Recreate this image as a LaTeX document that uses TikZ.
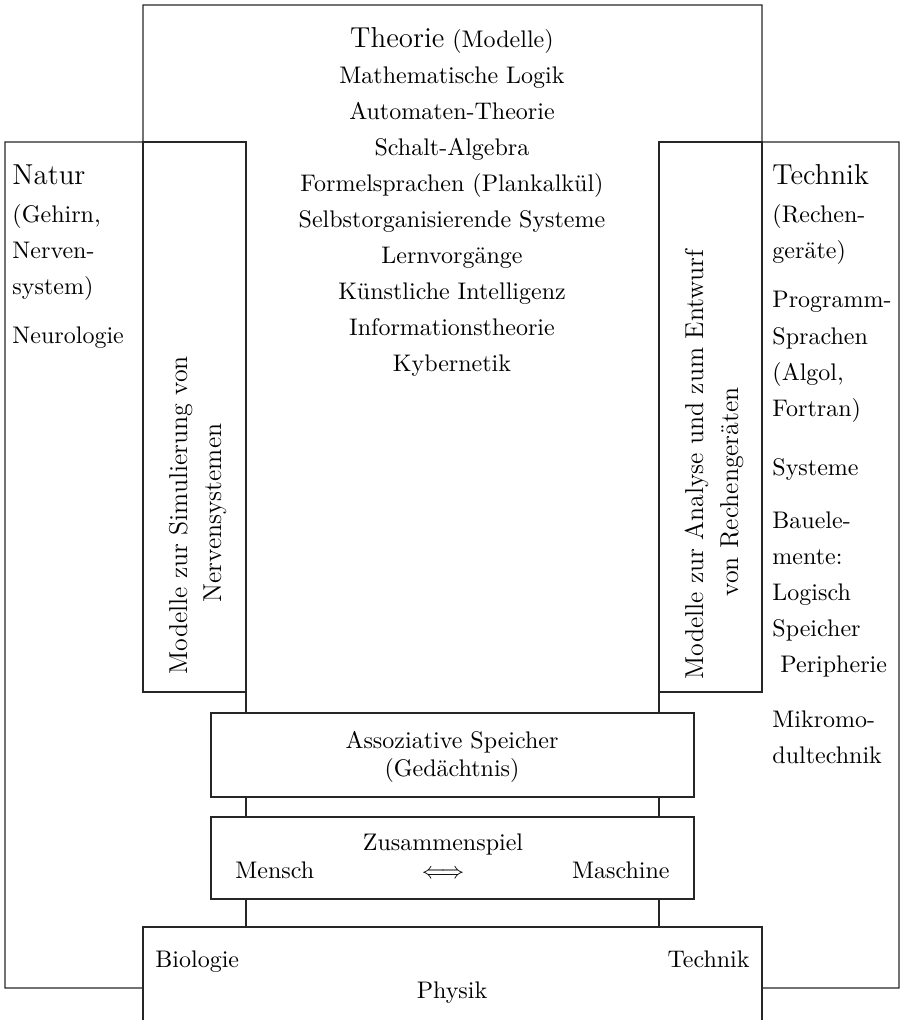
\documentclass[tikz,border=0pt]{standalone}
\begin{document}
\begin{tikzpicture}[x=0.4333pt,y=-0.4333pt,
  frame/.style={line width=0.45pt, draw=black!85},
  box/.style={frame, inner sep=0pt, outer sep=0pt},
  txt/.style={inner sep=0pt, font=\fontsize{10.4}{12.5}\selectfont},
  big/.style={inner sep=0pt, font=\fontsize{12.5}{15}\selectfont},
  item/.style={txt, anchor=base},
  lft/.style={txt, anchor=base west},
  vtxt/.style={inner sep=0pt, font=\fontsize{11.2}{13.5}\selectfont, rotate=90, anchor=base west}]
\useasboundingbox (0,0) rectangle (900,1020);

% outer frames
\coordinate (tl) at (143,5);
\coordinate (tr) at (762,5);
\coordinate (nl) at (5,142);
\coordinate (nb) at (5,988);
\coordinate (tnr) at (899,142);
\coordinate (tnb) at (899,988);
\coordinate (pl) at (143,927);
\coordinate (pr) at (762,927);
\coordinate (plb) at (143,1020);
\coordinate (prb) at (762,1020);

% side model boxes and the two middle boxes
\node[box, minimum width=44.63pt, minimum height=238.32pt] (lmod) at (194.5,417) {};
\node[box, minimum width=44.63pt, minimum height=238.32pt] (rmod) at (710.5,417) {};
\node[box, minimum width=209.28pt, minimum height=36.40pt] (assoc) at (452.5,755) {};
\node[box, minimum width=209.28pt, minimum height=35.53pt] (zus) at (452.5,858) {};

% Theorie frame
\draw[frame] (lmod.north west) -- (tl) -- (tr) -- (rmod.north east);
% Natur frame
\draw[frame] (lmod.north west) -- (nl) -- (nb) -- (nb -| pl);
% Technik frame
\draw[frame] (rmod.north east) -- (tnr) -- (tnb) -- (tnb -| pr);
% Physik frame, open at the bottom
\draw[frame] (plb) -- (pl) -- (pr) -- (prb);

% vertical links between the boxes
\draw[frame] (lmod.south east) -- (assoc.north -| lmod.south east);
\draw[frame] (assoc.south -| lmod.south east) -- (zus.north -| lmod.south east);
\draw[frame] (zus.south -| lmod.south east) -- (pl -| lmod.south east);
\draw[frame] (rmod.south west) -- (assoc.north -| rmod.south west);
\draw[frame] (assoc.south -| rmod.south west) -- (zus.north -| rmod.south west);
\draw[frame] (zus.south -| rmod.south west) -- (pl -| rmod.south west);

% Theorie
\node[item] (theo) at (452,47) {{\fontsize{12.5}{15}\selectfont Theorie} (Modelle)};
\node[item] (t1) at (452,83) {Mathematische Logik};
\node[item] (t2) at (452,119.1) {Automaten-Theorie};
\node[item] (t3) at (452,155.2) {Schalt-Algebra};
\node[item] (t4) at (452,191.3) {Formelsprachen (Plankalkül)};
\node[item] (t5) at (452,227.4) {Selbstorganisierende Systeme};
\node[item] (t6) at (452,263.5) {Lernvorgänge};
\node[item] (t7) at (452,299.6) {Künstliche Intelligenz};
\node[item] (t8) at (452,335.7) {Informationstheorie};
\node[item] (t9) at (452,371.8) {Kybernetik};

% Natur
\node[big, anchor=base west] (natur) at (12,184) {Natur};
\node[lft] (n1) at (12,222) {(Gehirn,};
\node[lft] (n2) at (12,258) {Nerven-};
\node[lft] (n3) at (12,294) {system)};
\node[lft] (n4) at (12,343) {Neurologie};

% Technik
\node[big, anchor=base west] (technik) at (772,184) {Technik};
\node[lft] (k1) at (772,222) {(Rechen-};
\node[lft] (k2) at (772,258) {geräte)};
\node[lft] (k3) at (772,307) {Programm-};
\node[lft] (k4) at (772,344) {Sprachen};
\node[lft] (k5) at (772,380) {(Algol,};
\node[lft] (k6) at (772,416) {Fortran)};
\node[lft] (k7) at (772,475) {Systeme};
\node[lft] (k8) at (772,528) {Bauele-};
\node[lft] (k9) at (772,564) {mente:};
\node[lft] (k10) at (772,600) {Logisch};
\node[lft] (k11) at (772,636) {Speicher};
\node[lft] (k12) at (780,672) {Peripherie};
\node[lft] (k13) at (772,727) {Mikromo-};
\node[lft] (k14) at (772,763) {dultechnik};

% rotated texts in the model boxes
\node[vtxt] (lm1) at (187,675) {Modelle zur Simulierung von};
\node[vtxt] (lm2) at (221,603) {Nervensystemen};
\node[vtxt] (rm1) at (703,680) {Modelle zur Analyse und zum Entwurf};
\node[vtxt] (rm2) at (738,597) {von Rechengeräten};

% middle boxes
\node[item] (as1) at (452,748) {Assoziative Speicher};
\node[item] (as2) at (452,776) {(Gedächtnis)};
\node[item] (zs) at (443,850) {Zusammenspiel};
\node[lft] (mensch) at (235,878) {Mensch};
\node[item] (arrow) at (443,878) {$\Longleftrightarrow$};
\node[txt, anchor=base east] (maschine) at (670,878) {Maschine};

% Physik
\node[lft] (bio) at (155,967) {Biologie};
\node[txt, anchor=base east] (tech) at (750,967) {Technik};
\node[item] (phys) at (452,998) {Physik};
\end{tikzpicture}
\end{document}
